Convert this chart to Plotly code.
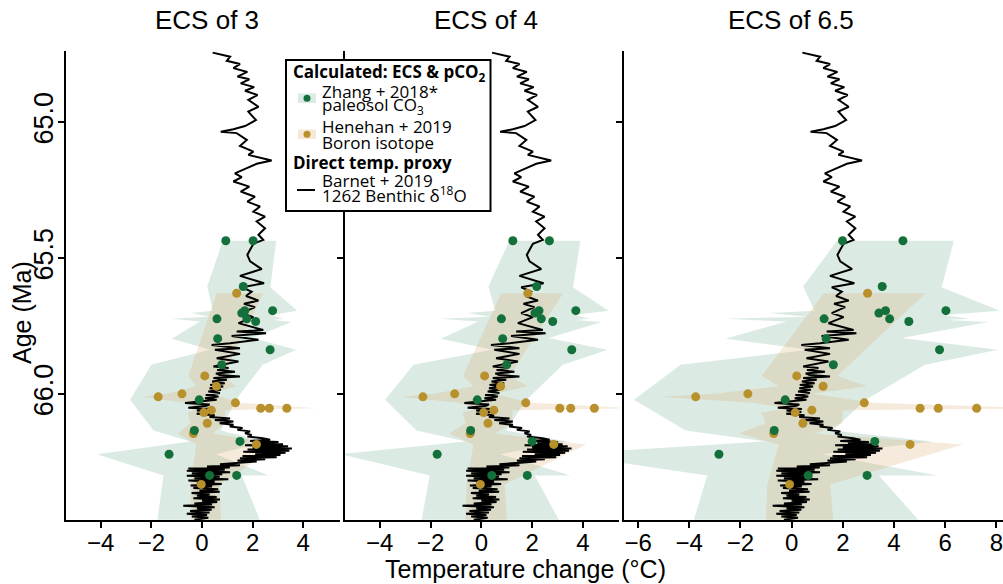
import plotly.graph_objects as go

# ---------------- data ----------------
titles = ["ECS of 3", "ECS of 4", "ECS of 6.5"]

# Barnet + 2019, 1262 benthic d18O temperature change (same in every panel)
barnet_age = [64.744, 64.759, 64.774, 64.786, 64.801, 64.815, 64.832, 64.842, 64.857, 64.871,
              64.884, 64.900, 64.918, 64.943, 64.961, 64.992, 65.014, 65.026, 65.035, 65.040,
              65.065, 65.087, 65.108, 65.120, 65.141, 65.153, 65.169, 65.188, 65.202, 65.218,
              65.237, 65.255, 65.274, 65.292, 65.310, 65.329, 65.347, 65.365, 65.390, 65.414,
              65.433, 65.447,
              65.469, 65.488, 65.512, 65.540, 65.565, 65.592, 65.607, 65.623, 65.639, 65.656,
              65.668, 65.680, 65.702, 65.717, 65.739, 65.764, 65.770, 65.776, 65.786, 65.800,
              65.813, 65.819, 65.831, 65.837, 65.852, 65.868, 65.880,
              65.898, 65.904, 65.911, 65.918, 65.924, 65.930, 65.935, 65.941, 65.947, 65.954,
              65.960, 65.966, 65.972, 65.978, 65.984, 65.990, 65.996, 66.003, 66.009, 66.015,
              66.021, 66.027,
              66.033, 66.038, 66.043, 66.050, 66.055, 66.060, 66.066, 66.072, 66.078, 66.084,
              66.090, 66.095, 66.101, 66.107,
              66.113, 66.119, 66.125, 66.131, 66.137, 66.144, 66.150, 66.156, 66.162,
              66.168, 66.172, 66.176, 66.180, 66.184, 66.188, 66.192, 66.196, 66.200, 66.204,
              66.208, 66.212, 66.216, 66.220, 66.224, 66.228, 66.232, 66.236, 66.240, 66.244,
              66.248, 66.254,
              66.258, 66.262, 66.266, 66.270, 66.274, 66.278,
              66.282, 66.287, 66.291, 66.295, 66.300, 66.304, 66.309, 66.313, 66.318, 66.322,
              66.327, 66.331, 66.336, 66.340, 66.345, 66.350, 66.355, 66.359, 66.364, 66.369,
              66.374, 66.378, 66.383, 66.388, 66.392, 66.397, 66.402, 66.406, 66.411, 66.416,
              66.420, 66.425, 66.430, 66.435, 66.440, 66.445, 66.450, 66.455, 66.462]
barnet_temp = [0.42, 1.11, 0.98, 1.50, 1.24, 1.79, 1.40, 1.87, 1.53, 2.06,
               1.70, 2.19, 1.83, 2.23, 1.83, 2.13, 1.70, 1.24, 0.74, 1.37,
               1.77, 1.50, 2.03, 1.83, 2.75, 2.16, 1.77, 1.30, 1.57, 1.24,
               1.87, 1.53, 2.09, 1.79, 2.29, 2.03, 2.49, 2.16, 2.49, 2.23,
               2.42, 2.03,
               1.90, 1.79, 1.90, 2.36, 1.50, 2.45, 1.57, 1.96, 1.74, 2.23,
               1.66, 2.09, 1.57, 2.03, 1.44, 2.42, 1.37, 2.53, 1.17, 2.23,
               1.11, 0.38, 1.50, 0.51, 1.50, 0.58, 1.44,
               0.45, 1.05, 0.60, 1.30, 0.55, 0.70, 1.50, 0.45, 0.98, 0.40,
               0.90, 0.32, 0.84, 0.30, 0.75, 0.25, 0.71, 0.15, 0.65, 0.12,
               0.58, -0.10,
               -0.67, 0.30, 0.19, -0.54, 0.40, -0.20, 0.38, -0.21, 0.50, 0.30,
               1.11, 0.51, 1.24, 0.70,
               1.24, 1.10, 1.60, 1.40, 1.90, 1.70, 1.96, 1.80, 2.40,
               2.69, 1.90, 3.02, 2.20, 3.20, 1.70, 3.40, 2.00, 3.55, 1.80,
               3.45, 1.63, 3.30, 2.10, 3.10, 1.60, 2.95, 1.50, 2.50, 1.40,
               2.16, 1.30,
               0.71, 1.50, 0.20, 1.10, -0.54, 0.90,
               -0.60, 1.11, -0.40, 0.80, -0.60, 0.70, -0.30, 1.04, -0.54, 0.50,
               -0.20, 0.78, -0.45, 0.40, -0.34, 0.64, -0.10, 0.70, -0.41, 0.30,
               -0.20, 0.58, -0.34, 0.71, 0.00, 0.60, -0.30, 0.40, -0.74, 0.50,
               -0.20, 0.38, -0.47, 0.30, -0.60, 0.20, -0.40, 0.25, -0.30]

# Zhang + 2018 (paleosol) calculated temperature change
zhang_age = [65.436, 65.436, 65.604, 65.693, 65.693, 65.702, 65.723, 65.723, 65.733,
             65.796, 65.837, 65.892, 66.021, 66.134, 66.174, 66.221, 66.299, 66.299]
zhang_ecs3 = [0.94, 2.02, 1.63, 2.79, 1.69, 1.57, 1.77, 0.59, 2.12,
              0.62, 2.69, 0.78, -0.11, -0.30, 1.50, -1.30, 1.37, 0.30]
zhang_ecs4 = [1.24, 2.68, 2.18, 3.72, 2.27, 2.11, 2.36, 0.79, 2.81,
              0.84, 3.56, 1.00, -0.16, -0.42, 2.00, -1.74, 1.81, 0.41]
zhang_ecs65 = [1.99, 4.35, 3.54, 6.03, 3.67, 3.41, 3.83, 1.27, 4.58,
               1.35, 5.78, 1.63, -0.25, -0.68, 3.25, -2.84, 2.95, 0.65]

# Henehan + 2019 (boron isotope) calculated temperature change
henehan_age = [65.629, 65.933, 65.971, 65.999, 66.010, 66.032, 66.052, 66.052, 66.052,
               66.059, 66.068, 66.107, 66.145, 66.185, 66.332]
henehan_ecs3 = [1.37, 0.11, 0.57, -0.79, -1.73, 1.32, 2.32, 2.66, 3.35,
                0.37, 0.07, 0.21, -0.34, 2.15, -0.03]
henehan_ecs4 = [1.83, 0.13, 0.76, -1.05, -2.30, 1.75, 3.09, 3.52, 4.45,
                0.49, 0.09, 0.26, -0.44, 2.85, -0.04]
henehan_ecs65 = [2.97, 0.20, 1.23, -1.71, -3.75, 2.84, 5.02, 5.73, 7.23,
                 0.79, 0.14, 0.44, -0.70, 4.63, -0.08]

# Zhang uncertainty envelope: upper bound (hi) and lower bound (lo) with their ages
zhang_hi_age = [65.436, 65.607, 65.693, 65.709, 65.723, 65.727, 65.735, 65.794, 65.837,
                65.892, 66.021, 66.134, 66.174, 66.221, 66.299, 66.299, 66.462]
zhang_hi_ecs3 = [2.93, 2.70, 3.76, 2.73, 3.20, 2.79, 3.54, 1.98, 3.72,
                 2.40, 1.34, 0.74, 2.54, 0.55, 2.63, 1.57, 2.28]
zhang_hi_ecs4 = [3.90, 3.61, 5.01, 3.64, 4.27, 3.72, 4.73, 2.65, 4.97,
                 3.21, 1.78, 0.98, 3.38, 0.74, 3.50, 2.10, 3.05]
zhang_hi_ecs65 = [6.34, 5.86, 8.14, 5.92, 6.94, 6.05, 7.68, 4.30, 8.07,
                  5.21, 2.90, 1.60, 5.50, 1.20, 5.69, 3.41, 4.95]
zhang_lo_age = [65.436, 65.436, 65.604, 65.693, 65.702, 65.715, 65.723, 65.733, 65.796,
                65.837, 65.892, 66.021, 66.134, 66.174, 66.221, 66.299, 66.462]
zhang_lo_ecs3 = [-0.56, 0.82, 0.21, 0.42, -0.41, 0.28, -1.22, -0.09, -1.19,
                 0.32, -2.00, -2.84, -1.91, -0.46, -4.15, -1.52, -1.76]
zhang_lo_ecs4 = [-0.74, 1.10, 0.28, 0.55, -0.55, 0.37, -1.62, -0.12, -1.59,
                 0.43, -2.67, -3.79, -2.55, -0.62, -5.54, -2.03, -2.35]
zhang_lo_ecs65 = [-1.21, 1.78, 0.45, 0.90, -0.89, 0.60, -2.64, -0.20, -2.58,
                  0.70, -4.34, -6.16, -4.14, -1.00, -9.00, -3.30, -3.82]

# Henehan uncertainty envelope
henehan_hi_age = [65.629, 65.933, 65.971, 65.999, 66.032, 66.052, 66.059, 66.107, 66.145,
                  66.185, 66.332, 66.462]
henehan_hi_ecs3 = [2.41, 0.82, 1.36, 0.37, 1.48, 4.52, 0.92, 0.91, 0.42, 3.09, 0.69, 0.75]
henehan_hi_ecs4 = [3.22, 1.10, 1.82, 0.49, 1.97, 6.03, 1.23, 1.22, 0.55, 4.12, 0.92, 1.00]
henehan_hi_ecs65 = [5.23, 1.78, 2.95, 0.80, 3.20, 9.80, 2.00, 1.98, 0.90, 6.70, 1.50, 1.63]
henehan_lo_age = [65.629, 65.933, 65.971, 65.999, 66.010, 66.032, 66.052, 66.068, 66.107,
                  66.145, 66.185, 66.332, 66.462]
henehan_lo_ecs3 = [0.58, -0.54, -0.23, -1.38, -2.36, -0.69, -0.09, -0.55, -0.46, -0.95, -0.23, -0.44, -0.46]
henehan_lo_ecs4 = [0.78, -0.72, -0.31, -1.85, -3.15, -0.92, -0.12, -0.74, -0.62, -1.27, -0.31, -0.58, -0.62]
henehan_lo_ecs65 = [1.26, -1.17, -0.50, -3.00, -5.12, -1.50, -0.20, -1.20, -1.00, -2.06, -0.50, -0.95, -1.00]

x_ranges = [[-5.39, 5.45], [-5.38, 5.42], [-6.55, 8.26]]
x_ticks = [[-4, -2, 0, 2, 4], [-4, -2, 0, 2, 4], [-6, -4, -2, 0, 2, 4, 6, 8]]
age_ticks = [65.0, 65.5, 66.0]
age_range = [66.463, 64.738]

# ---------------- styling ----------------
W, H = 1003, 584
ML, MR, MT, MB = 65, 0, 51, 64
PW, PH = W - ML - MR, H - MT - MB

def px(x):
    return (x - ML) / PW

def py(y):
    return (H - MB - y) / PH

GREEN = "#13703b"
GOLD = "#b8902c"
GREEN_FILL = "rgba(30,130,80,0.16)"
GOLD_FILL = "rgba(215,160,95,0.22)"
FONT = "Liberation Sans, Arial, sans-serif"
LFONT = "Open Sans, sans-serif"

domains = [[px(65.5), px(340)], [px(344.7), px(619)], [px(624), 1.0]]

zh = [zhang_ecs3, zhang_ecs4, zhang_ecs65]
hh = [henehan_ecs3, henehan_ecs4, henehan_ecs65]
zhi = [zhang_hi_ecs3, zhang_hi_ecs4, zhang_hi_ecs65]
zlo = [zhang_lo_ecs3, zhang_lo_ecs4, zhang_lo_ecs65]
hhi = [henehan_hi_ecs3, henehan_hi_ecs4, henehan_hi_ecs65]
hlo = [henehan_lo_ecs3, henehan_lo_ecs4, henehan_lo_ecs65]

fig = go.Figure()
for i in range(3):
    xa = "x" if i == 0 else f"x{i+1}"
    ya = "y" if i == 0 else f"y{i+1}"
    fig.add_trace(go.Scatter(
        x=zhi[i] + zlo[i][::-1], y=zhang_hi_age + zhang_lo_age[::-1],
        fill="toself", fillcolor=GREEN_FILL, line=dict(width=0), mode="lines",
        hoverinfo="skip", xaxis=xa, yaxis=ya))
    fig.add_trace(go.Scatter(
        x=hhi[i] + hlo[i][::-1], y=henehan_hi_age + henehan_lo_age[::-1],
        fill="toself", fillcolor=GOLD_FILL, line=dict(width=0), mode="lines",
        hoverinfo="skip", xaxis=xa, yaxis=ya))
    fig.add_trace(go.Scatter(
        x=barnet_temp, y=barnet_age, mode="lines",
        line=dict(color="black", width=2), xaxis=xa, yaxis=ya))
    fig.add_trace(go.Scatter(
        x=hh[i], y=henehan_age, mode="markers",
        marker=dict(color=GOLD, size=9), xaxis=xa, yaxis=ya))
    fig.add_trace(go.Scatter(
        x=zh[i], y=zhang_age, mode="markers",
        marker=dict(color=GREEN, size=9), xaxis=xa, yaxis=ya))

axis_common = dict(showline=True, linecolor="black", linewidth=2, ticks="outside",
                   ticklen=6, tickwidth=2, tickcolor="black", showgrid=False,
                   zeroline=False, ticklabeloverflow="allow")
layout = dict(width=W, height=H, margin=dict(l=ML, r=MR, t=MT, b=MB),
              paper_bgcolor="white", plot_bgcolor="white", showlegend=False)
for i in range(3):
    sx = "" if i == 0 else str(i + 1)
    layout["xaxis" + sx] = dict(domain=domains[i], range=x_ranges[i], tickvals=x_ticks[i],
                                anchor="y" + sx, ticklabelstandoff=-6,
                                tickfont=dict(family=FONT, size=24, color="black"),
                                **axis_common)
    layout["yaxis" + sx] = dict(domain=[0, 1], range=age_range, tickvals=age_ticks,
                                tickformat=".1f", anchor="x" + sx, tickangle=-90,
                                showticklabels=(i == 0), ticklabelstandoff=-6,
                                tickfont=dict(family=FONT, size=27, color="black"),
                                **axis_common)
fig.update_layout(**layout)

ann = []
title_x = [207, 486, 791]
for i in range(3):
    ann.append(dict(x=px(title_x[i]), y=py(20), xref="paper", yref="paper", text=titles[i],
                    showarrow=False, font=dict(family=FONT, size=26, color="black"),
                    xanchor="center", yanchor="middle"))
ann.append(dict(x=px(525), y=py(569), xref="paper", yref="paper", text="Temperature change (°C)",
                showarrow=False, font=dict(family=FONT, size=25, color="black"),
                xanchor="center", yanchor="middle"))
ann.append(dict(x=px(22), y=py(313), xref="paper", yref="paper", text="Age (Ma)", textangle=-90,
                showarrow=False, font=dict(family=FONT, size=25, color="black"),
                xanchor="center", yanchor="middle"))

# legend (drawn manually)
shapes = [
    dict(type="rect", xref="paper", yref="paper", x0=px(286), x1=px(490.5), y0=py(60), y1=py(211),
         line=dict(color="black", width=2), fillcolor="white", layer="above"),
    dict(type="rect", xref="paper", yref="paper", x0=px(298), x1=px(316), y0=py(93.5), y1=py(103),
         line=dict(width=0), fillcolor="#d9ebe2", layer="above"),
    dict(type="rect", xref="paper", yref="paper", x0=px(298), x1=px(316), y0=py(129.5), y1=py(139),
         line=dict(width=0), fillcolor="#f5e8d8", layer="above"),
    dict(type="circle", xref="paper", yref="paper", x0=px(303.5), x1=px(310.5), y0=py(94.7), y1=py(101.7),
         line=dict(width=0), fillcolor=GREEN, layer="above"),
    dict(type="circle", xref="paper", yref="paper", x0=px(303.5), x1=px(310.5), y0=py(130.7), y1=py(137.7),
         line=dict(width=0), fillcolor=GOLD, layer="above"),
    dict(type="line", xref="paper", yref="paper", x0=px(297), x1=px(315), y0=py(190), y1=py(190),
         line=dict(color="black", width=2), layer="above"),
]
leg = [
    (291, 73, "<b>Calculated: ECS &amp; pCO<sub>2</sub></b>"),
    (320, 91, "Zhang + 2018*"),
    (320, 106, "paleosol CO<sub>3</sub>"),
    (320, 127, "Henehan + 2019"),
    (320, 142, "Boron isotope"),
    (291, 162, "<b>Direct temp. proxy</b>"),
    (320, 180, "Barnet + 2019"),
    (320, 195, "1262 Benthic δ<sup>18</sup>O"),
]
for (x, y, t) in leg:
    ann.append(dict(x=px(x), y=py(y), xref="paper", yref="paper", text=t, showarrow=False,
                    font=dict(family=LFONT, size=17, color="black"),
                    xanchor="left", yanchor="middle"))
fig.update_layout(annotations=ann, shapes=shapes)
fig.write_html("out.html")
